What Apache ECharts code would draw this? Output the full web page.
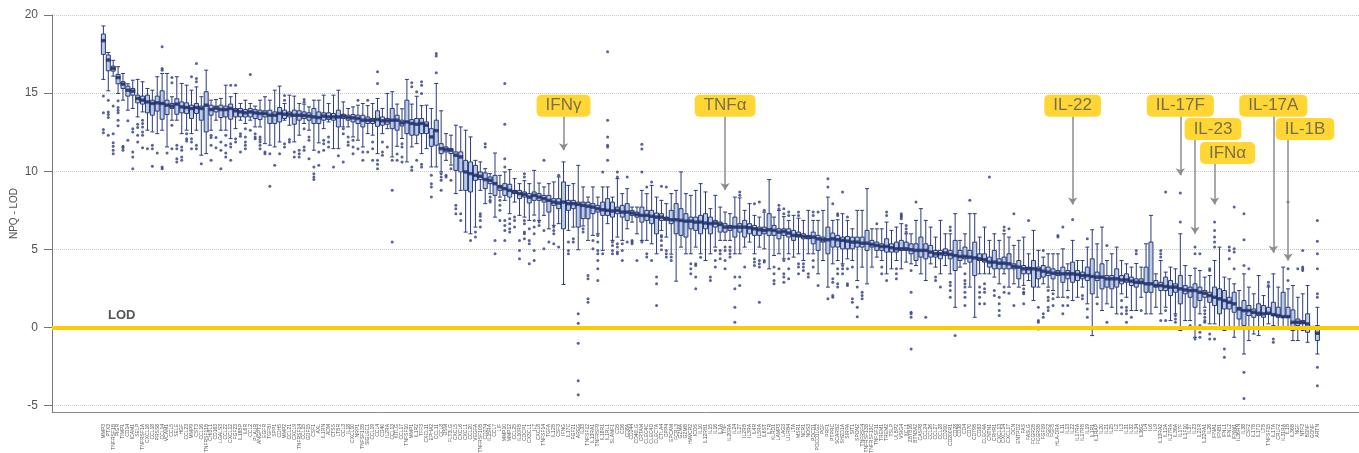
<!DOCTYPE html>
<html><head><meta charset="utf-8">
<script src="https://cdn.jsdelivr.net/npm/echarts@6/dist/echarts.min.js"></script>
<style>html,body{margin:0;padding:0;background:#fff}#chart{width:1359px;height:453px}</style>
</head><body><div id="chart"></div>
<script>
// ---------------- DATA ----------------
const categories = [
"MMP3","PTX3","TNFRSF1B","PIGR","TIMP1","CD14","ICAM1","SELP","TNFRSF1A","CXCL16",
"CCL18","PRSS8","CCL14","VCAM1","CCL5","SELE","HGF","CCL23","MMP9","CST3",
"CCL16","TNFRSF11B","CHI3L1","CD163","LGALS3","CCL22","CXCL12","FGF23","IL18BP","IL6R",
"CCL2","PLAUR","ANGPT2","EGFR","TGFBI","SPP1","CDH5","MMP2","CCL21","CXCL9",
"TNFRSF14","CCL15","GDF15","CSF1","AXL","IL1RN","ADM","CTSS","LTBR","CCL3",
"IL18","CXCL10","NRP1","TNFSF13B","SIGLEC1","CCL19","CCL4","CD40","IL2RA","CCL13",
"KITLG","CCL17","TNFSF10","MMP1","IL1R2","TFF3","CXCL11","EPHA2","CCL11","CCL8",
"OSM","FLT3LG","CXCL5","CXCL6","CXCL1","CCL20","VEGFA","TNFRSF10B","CD274","IL15RA",
"CCL7","LIF","MMP10","MMP12","CCL25","IL10RB","CDCP1","CX3CL1","IL7","CXCL8",
"TNFSF14","TGFA","IL12B","CSF3","IFNG","IL17C","FGF21","AREG","IL33","TNFSF12",
"IL13RA1","TNFRSF9","IL18R1","IL1RL1","SLAMF1","CD5","CD6","CD8A","CD244","CD40LG",
"CRTAM","CLEC4C","CLEC4D","CLEC7A","CTLA4","DPP4","EPCAM","FCRL3","GZMA","GZMB",
"HAVCR2","ICOS","IL10","IL12RB1","IL15","IL16","IL1A","TNF","IL20RA","IL24",
"IL27","IL2RB","IL3RA","IL4R","IL5RA","IL6ST","IL7R","KLRD1","LAMP3","LAG3",
"LILRB4","LTA","MSR1","NCR1","NOS3","PDCD1","PDCD1LG2","PGF","PRF1","PTPRC",
"SCARB2","SH2D1A","SIRPA","SIT1","SPON2","TNFRSF4","TNFRSF13B","TNFRSF13C","TNFSF11","TREM1",
"TREM2","TSLP","ULBP2","VSIG4","XCL1","ZBTB16","BTN3A2","CASP8","CCL24","CCL26",
"CCL27","CCL28","CD200","CD200R1","CD28","CD38","CD4","CD70","CD79B","CD83",
"CLEC4A","CNTN1","CRHR1","CXCL13","CXCL14","CXCL17","DCN","ENTPD2","FAS","FASLG",
"FCGR2B","FCGR3B","FGF19","FGF2","FGF5","HLA-DRA","IL11","IL13","IL22","IL17RA",
"IL17RB","IL19","IL1R1","IL1RAP","IL20","IL21","IL25","IL2","IL3","IL31",
"IL32","IL34","IL36G","IL4","IL6","IL9","IL13RA2","IL12A","IL27RA","IL36A",
"IL17F","IL1F10","IL37","IL23","IL21R","IL22RA1","IL26","IFNA1","IFNB1","IFNL1",
"IFNL2","IFNW1","IL36RN","IL38","CSF2","IL17B","IL17D","LTB","TNFSF15","IL17A",
"CRLF2","IL31RA","IL1B","IL36B","NGF","NTF3","BDNF","GDNF","ARTN"
];

// box statistics per protein: [lower whisker, Q1, median, Q3, upper whisker]
const boxesA = [
[15.88,17.48,18.36,18.78,19.30],[15.15,16.43,17.12,17.44,17.60],[16.09,16.41,16.58,16.73,17.10],[14.98,15.60,16.00,16.20,16.69],[14.55,15.30,15.58,15.73,16.26],
[13.91,14.81,15.19,15.45,15.60],[14.02,14.87,15.13,15.30,15.83],[13.48,14.38,14.66,14.87,15.88],[13.80,14.30,14.55,14.81,15.73],[12.63,13.74,14.44,14.87,15.30],
[12.52,13.59,14.34,14.55,15.19],[12.41,13.85,14.38,14.81,16.05],[12.63,13.33,14.34,15.15,16.26],[11.56,13.63,14.23,14.55,16.26],[13.27,14.02,14.17,14.34,14.77],
[13.27,13.65,14.30,14.64,16.05],[12.41,13.74,14.12,14.44,15.62],[12.63,13.70,14.08,14.38,15.51],[12.41,13.38,14.02,14.23,15.19],[12.63,13.70,14.08,14.34,15.40],
[11.03,13.27,14.02,14.17,14.77],[11.13,12.52,14.23,15.09,16.47],[12.63,13.59,13.95,14.23,14.55],[13.27,13.80,14.04,14.17,14.59],[12.63,13.44,13.95,14.23,14.66],
[12.63,13.48,13.95,14.17,15.51],[12.09,13.33,14.02,14.30,14.77],[12.73,13.48,13.87,14.02,14.98],[13.27,13.48,13.80,14.02,14.34],[13.06,13.48,13.74,13.95,14.55],
[13.27,13.48,13.80,14.02,14.34],[12.84,13.38,13.74,13.95,14.17],[12.84,13.31,13.70,13.91,14.55],[11.77,13.48,13.70,13.87,14.77],[11.67,13.06,13.59,13.91,14.55],
[11.56,13.06,13.59,13.80,15.19],[11.88,13.16,13.70,14.08,15.45],[13.27,13.38,13.65,13.91,14.34],[12.95,13.48,13.65,13.80,14.87],[11.88,13.01,13.59,13.91,14.81],
[12.31,13.27,13.59,13.87,14.34],[13.06,13.38,13.57,13.80,14.30],[12.63,13.27,13.53,13.74,14.12],[11.35,13.06,13.48,14.02,14.55],[11.82,13.06,13.44,13.80,14.55],
[12.73,13.27,13.53,13.74,14.87],[13.16,13.31,13.48,13.74,14.34],[11.45,13.27,13.48,13.70,14.87],[11.45,12.84,13.48,13.91,15.19],[12.84,13.38,13.53,13.65,14.44],
[12.84,13.27,13.44,13.59,14.02],[12.20,13.16,13.42,13.63,14.12],[11.99,13.06,13.38,13.59,14.23],[11.56,12.84,13.27,13.59,14.34],[12.41,13.06,13.27,13.48,14.20],
[12.31,13.06,13.27,13.38,14.34],[11.13,12.88,13.31,13.87,14.66],[12.41,12.95,13.23,13.48,14.02],[12.73,13.01,13.23,13.38,14.98],[10.92,12.73,13.27,14.02,15.09]
];
const boxesB = [
[11.60,12.63,13.27,13.59,14.30],[12.10,12.90,13.10,13.27,14.00],[10.60,12.41,13.16,14.55,15.88],[11.56,12.31,13.06,13.31,14.30],[11.77,12.31,13.01,13.38,14.80],
[11.13,12.41,13.06,13.38,14.20],[11.45,12.41,12.95,13.16,14.23],[10.28,11.60,12.20,12.73,14.02],[10.28,11.67,12.60,13.27,15.62],[9.96,11.13,11.45,11.77,13.87],
[10.70,11.24,11.40,11.56,12.41],[10.40,11.13,11.35,11.45,12.31],[8.57,10.06,11.03,11.24,12.95],[8.78,9.96,10.92,11.24,12.84],[6.11,8.78,9.96,10.70,12.63],
[6.00,8.68,9.85,10.60,12.20],[6.43,9.42,9.74,10.38,10.70],[8.78,9.47,9.68,9.96,10.60],[7.93,8.89,9.47,9.90,10.17],[8.57,9.21,9.42,9.64,9.85],
[7.07,8.46,9.21,9.74,11.17],[8.35,8.78,9.00,9.10,9.74],[8.14,8.46,8.89,9.21,9.96],[7.29,8.35,8.78,9.17,10.11],[8.03,8.57,8.68,8.78,9.53],
[7.18,8.25,8.57,8.78,9.21],[7.07,8.35,8.52,8.68,9.40],[6.86,7.97,8.35,8.57,9.21],[7.20,8.14,8.46,8.68,10.06],[6.86,8.14,8.35,8.57,9.25],
[7.18,8.03,8.25,8.46,9.00],[6.32,7.39,8.14,8.46,9.21],[6.54,7.82,8.03,8.25,9.32],[6.65,7.61,7.97,8.25,9.64],[2.76,6.32,8.03,9.32,10.60],
[6.22,7.50,7.93,8.14,9.10],[6.43,7.61,7.93,8.14,9.21],[4.98,6.43,7.88,8.03,10.38],[6.50,6.97,7.82,8.03,9.00],[5.58,6.97,7.76,8.03,8.35],
[5.90,7.29,7.71,7.93,9.00],[6.00,7.39,7.61,7.82,8.35],[4.94,7.18,7.54,8.03,9.00],[6.65,7.18,7.50,8.25,9.00],[5.58,7.07,7.46,8.03,8.35],
[5.79,7.29,7.50,7.71,9.53],[5.58,7.07,7.39,7.82,8.57],[6.32,6.86,7.39,7.93,8.89],[6.75,7.18,7.33,7.50,7.71],[6.00,7.07,7.24,7.39,7.71],
[5.58,6.75,7.18,7.71,8.78],[5.58,6.86,7.18,7.50,8.57],[5.36,6.65,7.12,7.50,9.10],[4.72,6.00,7.07,7.33,8.35],[6.22,6.86,7.07,7.29,8.14],
[5.79,6.86,6.97,7.07,7.93],[4.70,6.65,6.90,7.50,8.57],[2.97,6.00,6.90,7.93,8.78],[5.15,5.90,6.86,7.61,9.96],[4.72,5.79,6.81,7.29,8.57],
[4.72,6.32,6.81,7.07,8.46],[5.15,6.22,6.75,7.07,8.78]
];
const boxesC = [
[4.72,6.00,6.75,7.18,9.21],[4.29,6.32,6.69,7.29,8.68],[4.72,6.00,6.65,7.07,7.61],[5.15,6.43,6.69,6.86,8.46],[5.58,6.11,6.60,6.75,7.71],
[5.58,6.11,6.43,6.65,7.39],[5.58,6.22,6.43,6.54,7.29],[4.72,5.79,6.43,7.07,8.35],[4.72,6.11,6.43,6.65,8.30],[5.15,5.79,6.43,6.86,7.50],
[5.47,6.00,6.39,6.65,7.93],[4.72,5.90,6.32,6.54,7.18],[5.15,5.90,6.26,6.43,7.07],[5.04,6.00,6.22,6.43,7.39],[3.76,5.90,6.26,7.29,9.47],
[4.61,5.90,6.22,6.54,7.07],[4.72,5.68,6.11,6.32,7.50],[4.40,5.90,6.15,6.32,7.10],[4.72,5.79,6.05,6.32,6.86],[4.51,5.58,5.90,6.22,7.18],
[4.72,5.79,5.90,6.11,7.00],[4.29,5.68,5.83,6.00,6.86],[4.72,5.68,5.79,5.90,7.50],[4.72,5.36,5.79,6.11,6.86],[3.44,4.94,5.68,5.90,6.86],
[4.29,5.47,5.62,5.79,7.50],[2.59,4.72,5.62,6.43,8.35],[4.08,5.15,5.68,6.05,6.86],[4.29,5.15,5.62,5.90,6.90],[4.08,5.04,5.58,5.79,7.29],
[4.40,5.04,5.53,5.83,6.86],[4.29,5.04,5.47,5.79,6.32],[3.01,5.15,5.47,5.79,7.50],[3.87,5.15,5.40,5.79,7.50],[2.80,4.94,5.40,6.22,8.89],
[3.87,5.15,5.32,5.58,6.32],[4.51,4.94,5.26,5.47,6.32],[4.29,4.94,5.19,5.36,6.32],[3.44,4.83,5.19,5.68,6.75],[3.76,4.83,5.11,5.36,6.22],
[4.29,4.83,5.04,5.47,6.43],[3.76,4.94,5.04,5.58,6.65],[4.19,4.94,5.04,5.47,6.00],[4.08,4.72,4.98,5.36,6.00],[3.97,4.29,4.94,5.36,6.86],
[3.44,4.51,4.94,5.79,7.61],[3.01,4.40,4.94,5.36,6.86],[4.08,4.51,4.83,5.26,6.43],[3.87,4.51,4.72,4.94,5.79],[3.44,4.40,4.72,4.94,6.86],
[3.97,4.61,4.77,5.04,6.00],[3.44,4.40,4.68,4.94,6.00],[1.30,3.65,4.61,5.58,7.29],[3.87,4.29,4.55,4.94,5.58],[4.08,4.40,4.55,5.15,6.00],
[2.59,4.19,4.51,4.94,7.29],[0.66,3.33,4.46,5.47,7.29],[3.44,4.29,4.40,4.72,5.79],[3.44,4.19,4.34,4.72,6.43],[3.44,3.87,4.19,4.51,5.58],
[3.23,3.76,4.19,4.94,6.00],[2.80,3.76,4.12,4.40,5.58],[3.44,3.76,4.12,4.51,6.00]
];
const boxesD = [
[2.59,3.76,4.08,4.72,5.79],[2.80,3.76,3.91,4.08,5.26],[2.59,3.12,3.87,4.29,5.58],[2.70,3.44,3.76,3.97,5.79],[3.01,3.44,3.76,3.87,4.72],
[1.73,2.59,3.76,4.29,6.22],[2.59,3.12,3.70,3.87,4.94],[2.80,3.23,3.61,3.97,4.51],[2.59,3.33,3.55,3.87,4.72],[2.37,3.12,3.48,3.76,4.72],
[1.94,3.33,3.48,3.65,4.72],[1.94,2.90,3.44,3.87,5.04],[2.37,3.12,3.44,3.65,4.08],[1.73,2.90,3.44,4.19,5.58],[1.94,3.01,3.40,3.65,4.29],
[2.59,3.12,3.33,3.55,4.29],[1.52,3.01,3.33,3.87,5.15],[-0.51,2.16,3.27,4.40,6.26],[1.94,3.01,3.23,3.55,5.36],[1.09,2.48,3.23,4.08,6.43],
[1.52,2.59,3.12,3.33,4.29],[1.30,2.48,3.12,3.33,4.72],[0.88,2.59,3.12,3.76,5.15],[2.16,2.80,3.05,3.33,4.29],[1.94,2.90,3.05,3.44,4.08],
[1.09,2.69,2.97,3.23,3.87],[1.09,2.59,2.90,3.12,4.10],[1.94,2.80,2.90,3.12,3.87],[0.88,2.26,2.80,3.87,5.36],[0.88,2.26,2.80,5.47,7.18],
[1.30,2.59,2.69,3.01,3.44],[0.88,2.37,2.69,2.90,4.29],[1.30,2.37,2.63,3.23,3.55],[0.45,2.05,2.59,3.01,3.87],[0.88,2.26,2.59,2.80,3.76],
[-0.19,1.52,2.48,3.33,6.00],[0.45,2.16,2.41,2.69,3.97],[0.45,1.94,2.37,2.59,3.33],[-0.62,1.30,2.37,2.80,3.80],[0.88,1.73,2.26,2.59,3.65],
[1.30,1.94,2.20,2.37,3.23],[0.24,1.62,2.05,2.26,3.33],[0.24,1.41,1.94,2.59,4.29],[0.02,0.88,1.84,2.48,5.15],[-0.19,1.19,1.73,2.37,3.23],
[0.02,1.19,1.62,1.94,3.12],[-0.62,0.98,1.52,2.26,2.80],[0.02,0.55,1.19,1.30,2.37],[-1.69,0.13,1.09,1.73,3.44],[-0.83,0.77,1.09,1.41,2.59],
[-0.41,0.66,0.98,1.19,2.16],[-0.51,0.77,0.92,1.52,3.33],[-0.09,0.66,0.88,1.41,2.05],[0.24,0.88,0.92,1.30,2.60],[0.13,0.77,0.83,1.62,3.44],
[-0.09,0.66,0.77,1.30,2.59],[0.02,0.66,0.70,2.26,3.87],[-0.09,0.66,0.70,1.30,2.48],[-0.83,-0.19,0.34,1.13,2.69],[-0.83,0.13,0.34,0.55,1.94],
[-0.19,0.24,0.34,0.45,2.16],[-0.94,-0.30,0.24,0.88,2.69],[-0.05,-0.03,0.00,0.03,0.05],[-1.69,-0.83,-0.36,0.13,1.30]
];

// outliers: [protein index, [values]]
const outliersA = [
[0,[14.81,13.74,12.67,12.46]],[1,[14.55,13.80,13.63,13.44,12.31]],[2,[14.17,12.41,11.82,11.60,11.35,11.13]],
[3,[14.51,14.08,13.91,13.74,13.27,12.91]],[4,[11.60,11.50,11.35]],[5,[13.23,11.99]],[6,[12.73,12.52,11.24,10.92,10.17]],
[7,[13.01,12.80,12.31,11.88]],[8,[13.27,13.06,12.84,12.52,12.31,11.50]],[9,[11.45]],[10,[11.67,11.45,10.32]],[11,[11.17]],
[12,[17.97,16.58,16.47,10.28,10.17]],[13,[11.17]],[14,[16.00,15.66,12.95,11.45]],[15,[11.67,11.45,10.81,10.60]],
[16,[11.56,11.35,10.92,10.70]],[17,[12.41,12.09,11.94]],[18,[16.05,12.09,11.88,11.45]],[19,[16.90,15.94,15.73,11.67,11.45]],
[20,[10.49]],[22,[12.31,12.16,11.67,10.70]],[23,[12.16,11.50]],[24,[11.88,11.35,10.17]],[25,[12.31,11.67,11.17,10.92]],
[26,[15.51,11.77,11.56,10.70]],[27,[15.51,12.09,11.88]],[28,[12.41,12.24,11.24]],[29,[12.73,12.20,11.88,11.67,11.45]],
[30,[16.20,12.63]],[31,[12.41,12.20,12.09]],[32,[12.20,12.03,11.88,11.67,11.45]],[33,[11.24,11.13]],[34,[11.13,9.04]],
[35,[10.38]],[36,[11.13]],[37,[14.85,14.55,11.77,11.56]],[38,[12.03,11.88]],[39,[11.24,10.92]],[40,[11.35,11.13,10.92]],
[41,[14.59,14.44,12.73,11.56,11.35]],[42,[12.20,11.99,10.81]],[43,[10.28,9.85,9.64,9.47]],[44,[11.24,10.38]],
[45,[11.99,11.77,11.35]],[46,[12.20,11.88,11.56]],[47,[10.28]],[48,[11.00]],[49,[12.73,12.41,10.60]],[50,[12.20,11.88,11.67]],
[51,[11.99,11.56,11.13]],[52,[14.55,11.45]],[53,[11.24,10.70]],[54,[14.55,11.24]],[55,[11.88,11.45,10.70]],
[56,[16.37,15.62,10.70,10.45,10.17]],[57,[11.88,11.24,11.03]],[58,[11.56]],[59,[10.70,8.78,5.47]]
];
const outliersB = [
[60,[11.10,10.70]],[61,[11.77,11.56,10.92,10.60]],[63,[15.66,15.41,10.28,10.06]],[64,[15.09,10.70]],
[65,[15.73,15.51,14.98,10.45,10.28]],[67,[9.74,9.21,9.00,8.35]],[68,[17.54,17.37,16.30]],[69,[9.85,9.64,9.42,8.78]],
[70,[9.74,9.64]],[71,[10.17,9.42]],[72,[7.82,7.61,7.29]],[73,[7.29,6.86]],[75,[5.58]],[76,[6.11,5.79]],
[77,[7.29,7.12,6.86,6.43]],[78,[11.77,11.56]],[79,[8.35,8.14,8.03]],[80,[5.58,4.72]],[81,[8.14,7.82,7.50,6.86]],
[82,[15.62,13.01,10.81,10.28,6.86,6.54,6.22,5.58]],[83,[6.97,6.65,6.32,6.11]],[84,[7.07,6.86,6.43]],[85,[5.58,4.94,4.40]],
[86,[9.85,9.64,6.86,6.65,6.11,6.00,5.68]],[87,[6.32,5.58,5.36,4.08]],[88,[6.86,6.43,6.00,4.94,4.29]],[89,[6.75,6.54]],
[90,[10.70,6.22,5.04]],[91,[5.47]],[92,[6.43,6.22,6.00,5.36]],[93,[9.74,5.15]],[95,[5.47,4.94,4.72]],[96,[5.68,5.47]],
[97,[0.88,0.28,-1.00,-3.40,-4.30]],[98,[6.32,6.11]],[99,[3.33,3.12,1.84,1.62]],[100,[5.58,5.04]],
[101,[5.90,5.47,4.94,4.72,4.29,3.76,3.01]],[102,[9.96,4.72]],[103,[17.65,13.27,12.20,11.67,11.56,10.70]],
[104,[5.47,5.26,4.94,4.72]],[105,[9.96,9.64,5.36,5.15,4.83,4.72]],[106,[5.36,4.94,4.29]],[107,[9.64,5.47]],
[108,[5.58,5.47,5.36]],[109,[4.29]],[110,[11.73,11.43,9.96,5.47]],[111,[9.00,4.72,4.51]],[112,[9.32,4.29]],
[113,[3.23,2.80,1.41]],[114,[9.04,5.90,5.79,5.58,5.26,4.98]],[115,[9.00,4.94,4.72,4.51]],[116,[4.51,4.29]],
[120,[4.08,3.76,3.44]],[121,[4.08,3.97,3.23,2.48]]
];
const outliersC = [
[122,[4.50]],[124,[3.23,3.01]],[125,[4.94,4.29,3.87]],[126,[4.94,4.72,4.40]],[127,[5.15,4.94,4.29,3.76]],
[128,[5.15,4.94,4.72,4.51]],[129,[3.23,2.48,1.30,0.34]],[130,[8.68,8.46,3.23,2.69]],[131,[3.87]],
[133,[7.93,4.40,4.19,3.97]],[134,[8.03,4.29,4.08,3.87,1.62]],[135,[7.50,4.29,4.19]],[137,[3.87,3.44,3.01,2.80]],
[138,[7.82,7.61,3.76]],[139,[7.61,7.29,4.29,3.44,3.23,2.90]],[140,[7.39,7.18,4.40,3.76,3.12]],
[142,[7.39,7.18,4.08,3.87,3.44]],[143,[4.08,3.87,3.65]],[144,[3.44,3.23]],[145,[7.39,7.18,4.29,3.87]],
[146,[7.39,2.69]],[148,[9.53,9.00,1.84]],[149,[7.93,3.12,2.90,2.05,1.94]],[150,[7.29,7.18,3.76,3.44,2.80,2.59]],
[151,[8.68,3.97,3.76,3.44]],[152,[7.07,3.76,2.80,2.69]],[153,[3.87,1.84,1.62]],[154,[2.59,1.30,0.70]],
[155,[2.26,2.05,1.84]],[158,[6.65]],[159,[3.87,3.44]],[160,[7.39,7.18,3.01]],[162,[3.76,3.44,3.12]],
[163,[7.29,7.18,7.07,6.97]],[164,[6.54,6.32,6.11]],[165,[3.65,2.26,0.98,0.88,0.66,-1.37]],[166,[8.03]],
[168,[0.66]],[170,[3.23,3.01]],[171,[2.59]],[173,[6.43,6.22,2.90,2.69,2.37,1.94]],[174,[-0.51]],
[176,[3.44,3.01,2.80,2.59,2.26,1.94,1.41]],[177,[8.14]],[179,[2.59,2.26,1.94,1.52]],[180,[2.80,2.48,2.26,1.52]],
[181,[9.64]],[182,[2.37,2.05]],[183,[1.94,1.52,1.09,0.77]],[184,[6.43,6.22,2.59,2.26]]
];
const outliersD = [
[185,[6.32,2.20]],[186,[7.29,1.41]],[188,[2.48,2.26,2.16,1.52]],[189,[6.86]],[191,[1.30,0.45,0.34,-0.09]],
[192,[4.94,0.88,0.66]],[193,[2.37,1.94,1.73,1.30,1.09]],[194,[2.16,1.84,1.41]],[195,[5.90,5.79]],
[196,[6.43,1.41,0.88]],[197,[1.94,1.41]],[198,[6.92]],[200,[2.05,1.84]],[201,[5.68,1.19,0.66]],[203,[1.52]],
[205,[5.26,0.34]],[208,[1.73,1.30,0.88]],[209,[1.30,1.09,0.88,0.34]],[210,[0.66]],[211,[4.94,4.72]],[212,[1.09]],
[216,[4.94,4.72,4.51,0.45]],[217,[8.68,1.09,0.45]],[219,[0.77,0.55,0.34]],[220,[8.61,6.75]],[222,[0.13]],
[223,[5.15,4.72,-0.73]],[224,[4.72,0.13,-0.30,-0.62]],[225,[1.09,0.88,0.66,0.45,0.34]],[226,[3.76,3.65,-0.41,-0.73]],
[227,[6.75,6.22,5.79,5.47,5.15,-0.73]],[229,[-1.37,-1.90]],[230,[5.15,4.94,4.40]],[231,[7.71,5.04,4.83,3.76]],
[233,[7.29,5.62,3.97,-2.86,-4.53]],[234,[3.76]],[238,[2.90,2.69]],[239,[-0.73,-0.94]],[242,[8.03,3.76,3.01]],
[244,[3.76]],[245,[4.94,3.87,3.76,3.65]],[248,[6.86,5.53,4.72,3.76,2.16,1.94,-2.54,-3.72]]
];

// annotations
const annoText     = ["IFNγ","TNFα","IL-22","IL-17F","IL-23","IFNα","IL-17A","IL-1B"];
const annoProtein  = ["IFNG","TNF","IL22","IL17F","IL23","IFNA1","IL17A","IL1B"];
const annoLabelY   = [14.2, 14.2, 14.2, 14.2, 12.7, 11.17, 14.2, 12.7];
const annoArrowTop = [13.5, 13.5, 13.5, 13.5, 12.0, 10.5, 13.5, 12.0];
const annoArrowTip = [11.35, 8.8, 7.88, 9.74, 6.0, 7.88, 4.79, 4.29];
const lodValue = 0;

// ---------------- LAYOUT / STYLE ----------------
const PAD_LEFT = 10, PAD_RIGHT = 8;
const annoLabelShift = [0, 0, 0, 0, 18, 13, 0, 17];
const FONT = "'Liberation Sans', Arial, sans-serif";
const NAVY = '#2c3b7a';

const axisCats = [];
for (let k = 0; k < PAD_LEFT; k++) axisCats.push('');
categories.forEach(c => axisCats.push(c));
for (let k = 0; k < PAD_RIGHT; k++) axisCats.push('');

const boxes = boxesA.concat(boxesB, boxesC, boxesD);
const boxData = boxes.map((b, i) => [i + PAD_LEFT].concat(b));
const medianData = boxes.map((b, i) => [i + PAD_LEFT, b[2]]);
const outlierData = [];
outliersA.concat(outliersB, outliersC, outliersD).forEach(([i, vals]) =>
  vals.forEach(v => outlierData.push([i + PAD_LEFT, v])));

const annoData = annoText.map((t, k) => {
  const idx = categories.indexOf(annoProtein[k]) + PAD_LEFT;
  return { name: t, value: [idx, annoLabelY[k]], label: { offset: [annoLabelShift[k], 0] } };
});
const arrowData = annoText.map((t, k) => {
  const idx = categories.indexOf(annoProtein[k]) + PAD_LEFT;
  return [{ coord: [idx, annoArrowTop[k]] }, { coord: [idx, annoArrowTip[k]] }];
});

const chart = echarts.init(document.getElementById('chart'), null, { renderer: 'canvas' });
chart.setOption({
  animation: false,
  backgroundColor: '#ffffff',
  textStyle: { fontFamily: FONT },
  grid: { left: 52, right: 0, top: 15, bottom: 41, containLabel: false, outerBoundsMode: 'none' },
  xAxis: {
    type: 'category', data: axisCats, boundaryGap: true,
    axisLine: { onZero: false, lineStyle: { color: '#8a8a8a', width: 1 } },
    axisTick: { alignWithLabel: true, length: 6, interval: (i, v) => v !== '', lineStyle: { color: '#666' } },
    axisLabel: { interval: 0, rotate: 90, fontSize: 5, color: '#555', margin: 12, fontFamily: FONT },
    splitLine: { show: false }
  },
  yAxis: {
    type: 'value', min: -5.4, max: 20, splitNumber: 5,
    name: 'NPQ - LOD', nameLocation: 'middle', nameGap: 33, nameMoveOverlap: false,
    nameTextStyle: { color: '#555', fontSize: 10, fontFamily: FONT },
    axisLine: { show: true, lineStyle: { color: '#777' } },
    axisTick: { show: true, length: 8, lineStyle: { color: '#777' } },
    axisLabel: { color: '#555', fontSize: 12, margin: 14, showMinLabel: false, fontFamily: FONT },
    splitLine: { show: true, lineStyle: { color: '#c8c8c8', type: 'dotted', width: 1 } }
  },
  series: [
    {
      type: 'boxplot', data: boxData, encode: { x: 0, y: [1, 2, 3, 4, 5] },
      boxWidth: [4, 4], silent: true, z: 2,
      itemStyle: { color: '#b8cbe7', borderColor: NAVY, borderWidth: 1 }
    },
    {
      type: 'scatter', data: outlierData, symbol: 'circle', symbolSize: 3, silent: true, z: 3,
      itemStyle: { color: '#2e3c7c' }
    },
    {
      type: 'scatter', data: medianData, symbol: 'rect', symbolSize: [5, 3.5], silent: true, z: 4,
      itemStyle: { color: '#22306a' }
    },
    {
      type: 'scatter', data: [], silent: true, z: 10,
      markLine: {
        silent: true, symbol: ['none', 'none'], animation: false,
        data: [{ yAxis: lodValue }],
        lineStyle: { color: '#FFCC00', width: 4, type: 'solid' },
        label: { show: true, formatter: 'LOD', position: 'insideStartTop', distance: [56, 6],
                 color: '#555', fontSize: 13, fontWeight: 'bold', fontFamily: FONT },
        emphasis: { disabled: true }
      }
    },
    {
      type: 'scatter', data: annoData, symbolSize: 0, silent: true, z: 12,
      label: {
        show: true, position: 'inside', formatter: p => p.name,
        backgroundColor: '#FFCC00', borderRadius: 5, padding: [3, 9, 2, 9],
        color: '#555', fontSize: 17, fontFamily: FONT
      },
      markLine: {
        silent: true, symbol: ['none', 'arrow'], symbolSize: 7, animation: false,
        data: arrowData,
        lineStyle: { color: '#8c8c8c', width: 1.5, type: 'solid' },
        label: { show: false },
        emphasis: { disabled: true }
      }
    }
  ]
});
</script>
</body></html>
